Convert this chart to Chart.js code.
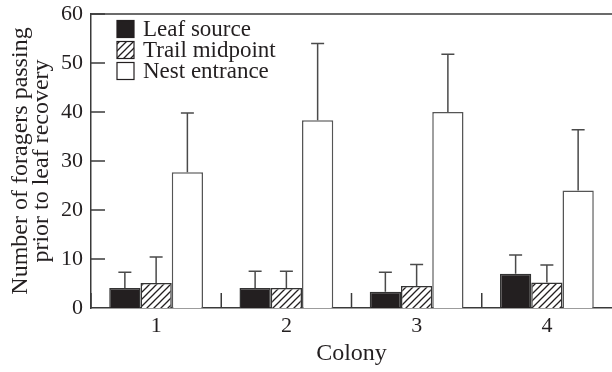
<!DOCTYPE html>
<html><head><meta charset="utf-8">
<script src="https://cdn.jsdelivr.net/npm/chart.js@4.4.1/dist/chart.umd.min.js"></script>
<style>html,body{margin:0;padding:0;background:#fff;overflow:hidden;}</style>
</head><body>
<canvas id="c" width="612" height="372"></canvas>
<script>
// ---- data ----
const categories = ['1', '2', '3', '4'];
const seriesNames = ['Leaf source', 'Trail midpoint', 'Nest entrance'];
const leafSource = [4.1, 4.1, 3.3, 7.0];
const leafSourceUpper = [7.3, 7.5, 7.3, 10.8];
const trailMidpoint = [5.1, 4.1, 4.5, 5.2];
const trailMidpointUpper = [10.4, 7.5, 8.9, 8.8];
const nestEntrance = [27.7, 38.3, 40.0, 24.0];
const nestEntranceUpper = [39.8, 54.0, 51.8, 36.4];
const yTickValues = [0, 10, 20, 30, 40, 50, 60];
const xTitle = 'Colony';
const yTitle = ['Number of foragers passing', 'prior to leaf recovery'];

const FONT = "'Liberation Serif', 'Times New Roman', serif";
const INK = '#231f20';
const LINE = '#3a3a3a';

function hatchPattern() {
  const s = 7;
  const pc = document.createElement('canvas');
  pc.width = s; pc.height = s;
  const g = pc.getContext('2d');
  g.fillStyle = '#fff'; g.fillRect(0, 0, s, s);
  g.strokeStyle = INK; g.lineWidth = 1.3;
  g.beginPath();
  g.moveTo(0, s); g.lineTo(s, 0);
  g.moveTo(-1, 1); g.lineTo(1, -1);
  g.moveTo(s - 1, s + 1); g.lineTo(s + 1, s - 1);
  g.stroke();
  return document.createElement('canvas').getContext('2d').createPattern(pc, 'repeat');
}

const uppers = [leafSourceUpper, trailMidpointUpper, nestEntranceUpper];

const decorPlugin = {
  id: 'decor',
  afterDatasetsDraw(chart) {
    const ctx = chart.ctx;
    const xs = chart.scales.x, ys = chart.scales.y;
    const ca = chart.chartArea;
    ctx.save();
    // error bars (upper only)
    ctx.strokeStyle = '#4a4a4a';
    ctx.lineWidth = 1.5;
    chart.data.datasets.forEach((ds, i) => {
      const meta = chart.getDatasetMeta(i);
      meta.data.forEach((bar, j) => {
        const yTop = ys.getPixelForValue(uppers[i][j]);
        ctx.beginPath();
        ctx.moveTo(bar.x, bar.y);
        ctx.lineTo(bar.x, yTop);
        ctx.moveTo(bar.x - 6.5, yTop);
        ctx.lineTo(bar.x + 6.5, yTop);
        ctx.stroke();
      });
    });
    // top frame line at max
    ctx.strokeStyle = LINE;
    ctx.lineWidth = 1.5;
    const yMax = ys.getPixelForValue(ys.max);
    ctx.beginPath();
    ctx.moveTo(ca.left, yMax); ctx.lineTo(ca.right, yMax);
    ctx.stroke();
    // inward y ticks
    ys.ticks.forEach(t => {
      if (t.value === 0) return;
      const y = ys.getPixelForValue(t.value);
      ctx.beginPath();
      ctx.moveTo(ca.left, y); ctx.lineTo(ca.left + 14, y);
      ctx.stroke();
    });
    // category separator ticks (inward, upward)
    for (let i = 0; i < categories.length; i++) {
      const x = xs.getPixelForValue(i - 0.5);
      ctx.beginPath();
      ctx.moveTo(x, ca.bottom); ctx.lineTo(x, ca.bottom - 15);
      ctx.stroke();
    }
    // legend
    ctx.font = '23px ' + FONT;
    ctx.textBaseline = 'middle';
    ctx.textAlign = 'left';
    chart.data.datasets.forEach((ds, i) => {
      const cy = ca.top + 15 + i * 21;
      const bx = ca.left + 26;
      ctx.fillStyle = ds.backgroundColor;
      ctx.fillRect(bx, cy - 8.5, 17, 17);
      ctx.strokeStyle = INK; ctx.lineWidth = 1.2;
      ctx.strokeRect(bx, cy - 8.5, 17, 17);
      ctx.fillStyle = INK;
      ctx.fillText(ds.label, bx + 26, cy + 1);
    });
    ctx.restore();
  }
};

new Chart(document.getElementById('c'), {
  type: 'bar',
  data: {
    labels: categories,
    datasets: [
      { label: seriesNames[0], data: leafSource, backgroundColor: INK, borderColor: '#333', borderWidth: 1.5 },
      { label: seriesNames[1], data: trailMidpoint, backgroundColor: hatchPattern(), borderColor: '#333', borderWidth: 1.5 },
      { label: seriesNames[2], data: nestEntrance, backgroundColor: '#ffffff', borderColor: '#555', borderWidth: 1.5 }
    ]
  },
  options: {
    responsive: false,
    animation: false,
    devicePixelRatio: 1,
    layout: { padding: { top: 14, right: 0, left: 0, bottom: 0 } },
    datasets: { bar: { categoryPercentage: 0.72, barPercentage: 1.0 } },
    plugins: { legend: { display: false }, tooltip: { enabled: false } },
    scales: {
      x: {
        type: 'category',
        offset: true,
        grid: { display: false, drawTicks: false },
        border: { display: true, color: LINE, width: 1.5 },
        ticks: { color: INK, font: { family: FONT, size: 22 }, padding: 5 },
        title: { display: true, text: xTitle, color: INK, font: { family: FONT, size: 24 }, padding: { top: 0, bottom: 4 } },
        afterFit(s) { s.height = 64; s.paddingLeft = 0; s.paddingRight = 0; }
      },
      y: {
        min: 0, max: 60,
        afterBuildTicks(s) { s.ticks = yTickValues.map(v => ({ value: v })); },
        grid: { display: false, drawTicks: false },
        border: { display: true, color: LINE, width: 1.5 },
        ticks: { color: INK, font: { family: FONT, size: 22 }, padding: 8 },
        title: { display: true, text: yTitle, color: INK, font: { family: FONT, size: 24, lineHeight: 0.84 }, padding: { top: 11, bottom: 0 } },
        afterFit(s) { s.width = 91; s.paddingTop = 0; s.paddingBottom = 0; }
      }
    }
  },
  plugins: [decorPlugin]
});
</script>
</body></html>
